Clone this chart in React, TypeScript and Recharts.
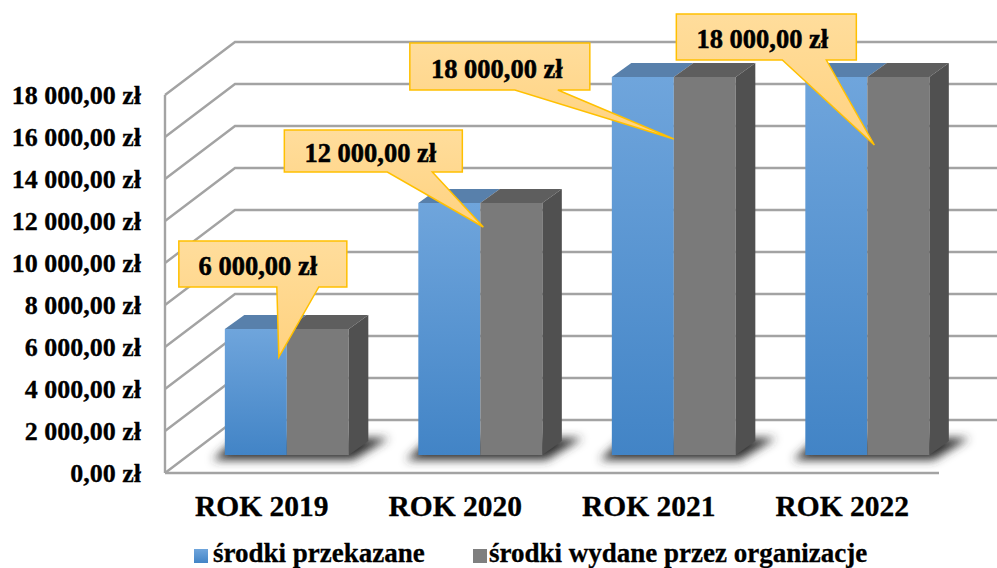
import React from "react";
import { BarChart, Bar, XAxis, YAxis, CartesianGrid, LabelList, Legend } from "recharts";

const categories = ["ROK 2019", "ROK 2020", "ROK 2021", "ROK 2022"];
const przekazane = [6000, 12000, 18000, 18000];
const wydane = [6000, 12000, 18000, 18000];
const yTicks = [0, 2000, 4000, 6000, 8000, 10000, 12000, 14000, 16000, 18000];
const seriesNames = ["środki przekazane", "środki wydane przez organizacje"];
const data = categories.map((name, i) => ({ name, a: przekazane[i], b: wydane[i] }));

const FONT = "'Liberation Serif', serif";
const WALL_DX = 70, WALL_DY = 53;
const BAR_DX = 25, BAR_DY = 18;
const DEPTH_DX = 19.5, DEPTH_DY = 14;
const GRID = "#a3a3a3";

const fmt = (v: number) => {
  const s = String(v).replace(/\B(?=(\d{3})+$)/g, " ");
  return `${s},00 zł`;
};

// callout geometry relative to the grey bar's front-top-left corner
const callouts = [
  { l: -108, t: -88, w: 168, h: 46, t1: -10, t2: 32, tipX: -8, tipY: 28, tx: -5 },
  { l: -196, t: -73, w: 178, h: 42, t1: -93, t2: -48, tipX: 3, tipY: 24, tx: -3 },
  { l: -264, t: -34, w: 180, h: 47, t1: -159, t2: -116, tipX: 0, tipY: 62, tx: -3 },
  { l: -191, t: -63, w: 180, h: 46, t1: -85, t2: -41, tipX: 7, tipY: 68, tx: -4 },
];

const BlueBar = (p: any) => {
  const { x, y, width, height } = p;
  const X = x + BAR_DX, Y = y - BAR_DY, W = width, H = height;
  const base = Y + H;
  return (
    <g>
      <polygon
        points={`${X - 12},${base + 5} ${X + 2 * W + 4},${base + 5} ${X + 2 * W + 40},${base - 17} ${X + 12},${base - 17}`}
        fill="#333"
        filter="url(#blurShadow)"
      />
      <polygon
        points={`${X},${Y} ${X + DEPTH_DX},${Y - DEPTH_DY} ${X + W + DEPTH_DX},${Y - DEPTH_DY} ${X + W},${Y}`}
        fill="#5880ab"
      />
      <rect x={X} y={Y} width={W} height={H} fill="url(#blueGrad)" />
    </g>
  );
};

const GreyBar = (p: any) => {
  const { x, y, width, height } = p;
  const X = x + BAR_DX, Y = y - BAR_DY, W = width, H = height;
  return (
    <g>
      <polygon
        points={`${X},${Y} ${X + DEPTH_DX},${Y - DEPTH_DY} ${X + W + DEPTH_DX},${Y - DEPTH_DY} ${X + W},${Y}`}
        fill="#5e5e5e"
      />
      <polygon
        points={`${X + W},${Y} ${X + W + DEPTH_DX},${Y - DEPTH_DY} ${X + W + DEPTH_DX},${Y + H - DEPTH_DY} ${X + W},${Y + H}`}
        fill="#505050"
      />
      <rect x={X} y={Y} width={W} height={H} fill="#7a7a7a" />
    </g>
  );
};

const Callout = (p: any) => {
  const { x, y, value, index } = p;
  const c = callouts[index];
  const ox = x + BAR_DX, oy = y - BAR_DY;
  const L = ox + c.l, T = oy + c.t, R = L + c.w, B = T + c.h;
  const d = `M${L},${T} H${R} V${B} H${ox + c.t2} L${ox + c.tipX},${oy + c.tipY} L${ox + c.t1},${B} H${L} Z`;
  return (
    <g>
      <path d={d} fill="url(#calloutGrad)" stroke="#ffc000" strokeWidth={1.5} />
      <text
        x={(L + R) / 2 + c.tx}
        y={(T + B) / 2 + 11}
        textAnchor="middle"
        fontFamily={FONT}
        fontWeight="bold"
        fontSize={26.5}
        fill="#000"
        stroke="#000"
        strokeWidth={0.5}
      >
        {fmt(value)}
      </text>
    </g>
  );
};

const gridLine = (p: any) => {
  const { x1, x2, y1 } = p;
  return (
    <polyline
      key={p.key ?? y1}
      points={`${x1},${y1} ${x1 + WALL_DX},${y1 - WALL_DY} ${x2 + WALL_DX},${y1 - WALL_DY}`}
      fill="none"
      stroke={GRID}
      strokeWidth={2.4}
    />
  );
};

const LegendContent = () => (
  <div style={{ position: "relative", height: 30, fontFamily: FONT, fontWeight: "bold", fontSize: 27, color: "#000", whiteSpace: "nowrap", WebkitTextStroke: "0.3px #000" }}>
    <span style={{ position: "absolute", left: 194, top: 11, width: 14, height: 14, background: "linear-gradient(#6fa5dc,#4284c6)" }} />
    <span style={{ position: "absolute", left: 213, top: 0, lineHeight: "30px" }}>{seriesNames[0]}</span>
    <span style={{ position: "absolute", left: 473, top: 11, width: 14, height: 14, background: "#7f7f7f" }} />
    <span style={{ position: "absolute", left: 489, top: 0, lineHeight: "30px" }}>{seriesNames[1]}</span>
  </div>
);

export default function App() {
  return (
    <div style={{ position: "absolute", left: 0, top: 0, width: 997, height: 568, overflow: "hidden", background: "#fff" }}>
      <BarChart
        width={997}
        height={568}
        data={data}
        margin={{ top: 95, right: 58, bottom: 0, left: 0 }}
        barCategoryGap="18%"
        barGap={0}
      >
        <defs>
          <linearGradient id="blueGrad" x1="0" y1="0" x2="0" y2="1">
            <stop offset="0%" stopColor="#6fa5dc" />
            <stop offset="100%" stopColor="#4284c6" />
          </linearGradient>
          <linearGradient id="calloutGrad" x1="0" y1="0" x2="0" y2="1">
            <stop offset="0%" stopColor="#ffdd9c" />
            <stop offset="100%" stopColor="#ffd27f" />
          </linearGradient>
          <filter id="blurShadow" x="-30%" y="-100%" width="160%" height="300%">
            <feGaussianBlur stdDeviation="5" />
          </filter>
        </defs>
        <CartesianGrid vertical={false} horizontal={gridLine} />
        <XAxis
          dataKey="name"
          tickLine={false}
          tickSize={0}
          height={65}
          axisLine={{ stroke: GRID, strokeWidth: 2.4 }}
          tick={{ fontFamily: FONT, fontWeight: "bold", fontSize: 29.5, fill: "#000", stroke: "#000", strokeWidth: 0.3 }}
          tickMargin={22}
          interval={0}
        />
        <YAxis
          domain={[0, 18000]}
          ticks={yTicks}
          width={165}
          tickLine={false}
          tickSize={0}
          axisLine={{ stroke: GRID, strokeWidth: 2.4 }}
          tick={{ fontFamily: FONT, fontWeight: "bold", fontSize: 26, fill: "#000", stroke: "#000", strokeWidth: 0.3 }}
          tickFormatter={fmt}
          tickMargin={24}
        />
        <Legend verticalAlign="bottom" height={30} wrapperStyle={{ left: 0, bottom: 0, width: 997, height: 30 }} content={<LegendContent />} />
        <Bar dataKey="a" name={seriesNames[0]} shape={<BlueBar />} isAnimationActive={false} />
        <Bar dataKey="b" name={seriesNames[1]} shape={<GreyBar />} isAnimationActive={false}>
          <LabelList dataKey="b" content={<Callout />} />
        </Bar>
      </BarChart>
    </div>
  );
}
